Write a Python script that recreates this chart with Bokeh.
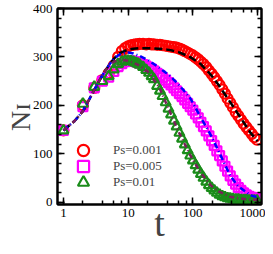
from bokeh.plotting import figure
from bokeh.models import (LogAxis, LinearAxis, SingleIntervalTicker, LogTicker,
                          Legend, LegendItem, Range1d, CustomJSTickFormatter,
                          PrintfTickFormatter)
from bokeh.embed import file_html
from bokeh.resources import INLINE

# simulation times
t_sim = [1, 2, 3, 4, 5, 6, 7, 8, 9, 10, 11, 12, 13, 14, 15, 17, 19, 21, 23, 25,
         28, 31, 34, 38, 42, 46, 51, 56, 62, 68, 75, 83, 91, 100, 110, 121, 133,
         146, 161, 177, 195, 214, 235, 259, 285, 313, 344, 378, 416, 458, 504,
         554, 609, 670, 737, 811, 892, 981]
n_ps001 = [148, 200, 236, 252, 266, 282, 300, 312, 318, 322, 324, 325, 326, 326,
           327, 327, 326, 327, 326, 326, 325, 325, 324, 323, 322, 321, 320, 319,
           317, 315, 312, 309, 306, 303, 299, 295, 290, 285, 279, 272, 265, 258,
           250, 242, 233, 224, 214, 205, 196, 186, 178, 170, 162, 155, 148, 141,
           134, 129]
n_ps005 = [148, 197, 236, 250, 258, 270, 280, 286, 290, 292, 292, 291, 290, 289,
           287, 284, 281, 278, 275, 271, 266, 262, 257, 252, 247, 242, 236, 230,
           224, 218, 211, 204, 197, 190, 182, 174, 165, 156, 147, 137, 127, 117,
           106, 96, 85, 74, 64, 54, 45, 37, 30, 24, 19, 15, 12, 10, 9, 8]
n_ps01 = [148, 203, 238, 250, 260, 274, 285, 290, 292, 292, 291, 290, 288, 286,
          284, 279, 273, 267, 260, 254, 240, 230, 219, 206, 193, 181, 168, 156,
          143, 131, 119, 107, 96, 86, 76, 67, 58, 50, 42, 35, 29, 24, 19, 15, 12,
          10, 8, 7, 6, 5, 5, 4, 4, 4, 3, 3, 3, 3]

# model curves
t_fit = [1, 1.5, 2, 2.5, 3, 4, 5, 6, 7, 8, 10, 12, 15, 20, 30, 45, 60, 90, 130,
         190, 250, 380, 500, 780, 1000]
fit_ps001 = [148, 168, 188, 212, 232, 262, 282, 296, 305, 310, 315, 317, 318,
             318, 317, 314, 310, 300, 286, 263, 242, 206, 182, 143, 126]
fit_ps005 = [148, 168, 188, 212, 232, 262, 282, 296, 303, 307, 309, 307, 302,
             294, 278, 260, 243, 216, 177, 138, 105, 54, 33, 14, 10]
fit_ps01 = [148, 168, 188, 212, 232, 262, 282, 290, 293, 294, 292, 288, 282,
            270, 238, 184, 146, 98, 62, 34, 22, 11, 8, 5, 5]

labels = ["Ps=0.001", "Ps=0.005", "Ps=0.01"]
y_ticks_interval = 100

FONT = "Liberation Serif"

p = figure(width=265, height=246, x_axis_type="log",
           x_range=Range1d(0.81, 1150), y_range=Range1d(-5, 400),
           output_backend="svg", toolbar_location=None,
           min_border_left=57, min_border_right=4, min_border_top=8,
           min_border_bottom=37)
p.xgrid.visible = False
p.ygrid.visible = False
p.outline_line_color = "black"
p.outline_line_width = 2
p.background_fill_color = "white"
p.border_fill_color = "white"

bottom = p.below[0]
left = p.left[0]
bottom.ticker = LogTicker()
bottom.formatter = PrintfTickFormatter(format="%d")
left.ticker = SingleIntervalTicker(interval=y_ticks_interval, num_minor_ticks=5)

blank = CustomJSTickFormatter(code="return ''")
top = LogAxis(ticker=LogTicker(), formatter=blank)
right = LinearAxis(ticker=SingleIntervalTicker(interval=y_ticks_interval,
                                               num_minor_ticks=5),
                   formatter=blank)
p.add_layout(top, "above")
p.add_layout(right, "right")

for ax in (bottom, left, top, right):
    ax.axis_line_width = 2
    ax.major_tick_in = 7
    ax.major_tick_out = 0
    ax.minor_tick_in = 4
    ax.minor_tick_out = 0
    ax.major_tick_line_width = 1.5
    ax.minor_tick_line_width = 1.5
    ax.major_label_text_font = FONT
    ax.major_label_text_font_size = "13px"
    ax.major_label_text_color = "black"

bottom.major_label_standoff = 4
left.major_label_standoff = 5
top.major_label_standoff = 0
right.major_label_standoff = 0

bottom.axis_label = "t"
bottom.axis_label_text_font = FONT
bottom.axis_label_text_font_size = "38px"
bottom.axis_label_text_font_style = "normal"
bottom.axis_label_standoff = -18

left.axis_label = "N\u026a\u00a0\u00a0\u00a0"
left.axis_label_text_font = FONT
left.axis_label_text_font_size = "28px"
left.axis_label_text_font_style = "normal"
left.axis_label_standoff = -6

r1 = p.scatter(t_sim, n_ps001, marker="circle", size=10, fill_color=None,
               line_color="#ff0000", line_width=2.2)
r2 = p.scatter(t_sim, n_ps005, marker="square", size=9, fill_color=None,
               line_color="#ff00ff", line_width=2.2)
r3 = p.scatter(t_sim, n_ps01, marker="triangle", size=10, fill_color=None,
               line_color="#1a8c1a", line_width=2.2)

p.line(t_fit, fit_ps001, line_color="black", line_width=2.5, line_dash="8 4")
p.line(t_fit, fit_ps005, line_color="#0000ff", line_width=2.5, line_dash="6 3 1 3")
p.line(t_fit, fit_ps01, line_color="#7a1f5a", line_width=2.5, line_dash="5 3 1 3")

for r, lab, yb in ((r1, labels[0], 40), (r2, labels[1], 24), (r3, labels[2], 8)):
    lg = Legend(items=[LegendItem(label=lab, renderers=[r])], location=(12, yb),
                glyph_width=28, glyph_height=28, padding=0, margin=0,
                label_standoff=16, background_fill_alpha=0,
                border_line_alpha=0, label_text_font=FONT,
                label_text_font_size="13px", spacing=0)
    p.add_layout(lg, "center")

open("out.html", "w").write(file_html(p, INLINE))
